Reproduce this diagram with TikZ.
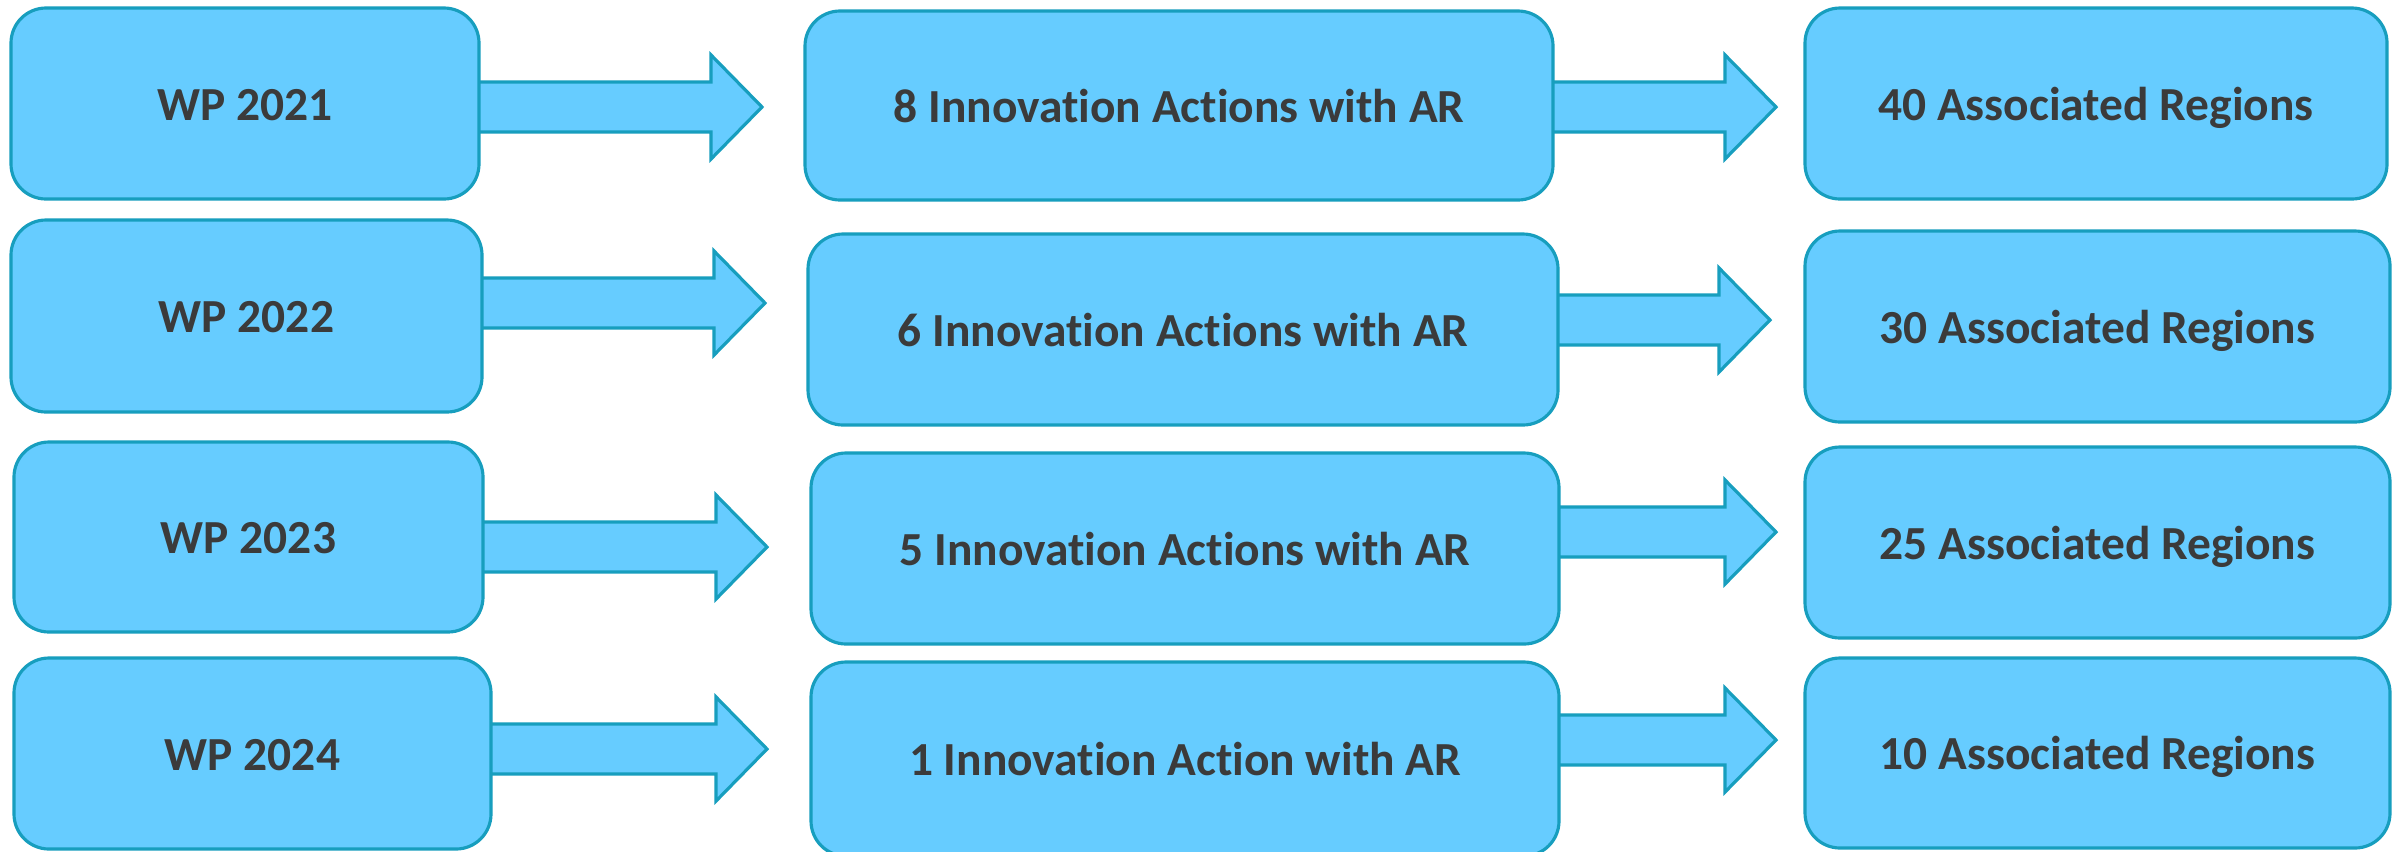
\documentclass[tikz,border=0pt]{standalone}
\usepackage{fontspec}
\setmainfont[Ligatures={NoCommon,NoContextual}]{Carlito}
\usetikzlibrary{calc,backgrounds}
\definecolor{boxfill}{HTML}{66CCFF}
\definecolor{boxline}{HTML}{179EBE}
\definecolor{txt}{HTML}{3B3B3B}
\tikzset{
  card/.style={draw=boxline, fill=boxfill, line width=0.9pt, rounded corners=0.35cm,
    inner sep=0pt, text height=9.6pt, text depth=0pt,
    font=\fontsize{13.5}{16}\selectfont\bfseries, text=txt},
  fatarrow/.style={draw=boxline, fill=boxfill, line width=0.9pt, line join=miter},
}
\newcommand\fatarr[2]{%
  \draw[fatarrow] let \p1=(#2), \p2=(#1.east) in
    (\x2-4pt,\y1+7.1pt) -- (\x1-14.5pt,\y1+7.1pt) -- (\x1-14.5pt,\y1+14.8pt) -- (\x1,\y1)
    -- (\x1-14.5pt,\y1-14.8pt) -- (\x1-14.5pt,\y1-7.1pt) -- (\x2-4pt,\y1-7.1pt) -- cycle;}
\begin{document}
\begin{tikzpicture}
\useasboundingbox (0,0) rectangle (23.99,-8.51);
% left column
\node[card, minimum width=4.68cm, minimum height=1.91cm] (w1) at (2.45,-1.035) {WP 2021};
\node[card, minimum width=4.71cm, minimum height=1.92cm] (w2) at (2.465,-3.16) {WP 2022};
\node[card, minimum width=4.69cm, minimum height=1.90cm] (w3) at (2.485,-5.37) {WP 2023};
\node[card, minimum width=4.77cm, minimum height=1.91cm] (w4) at (2.525,-7.535) {WP 2024};
% middle column
\node[card, minimum width=7.48cm, minimum height=1.89cm] (i1) at (11.79,-1.055) {8 Innovation Actions with AR};
\node[card, minimum width=7.50cm, minimum height=1.91cm] (i2) at (11.83,-3.295) {6 Innovation Actions with AR};
\node[card, minimum width=7.48cm, minimum height=1.91cm] (i3) at (11.85,-5.485) {5 Innovation Actions with AR};
\node[card, minimum width=7.48cm, minimum height=1.94cm] (i4) at (11.85,-7.59) {1 Innovation Action with AR};
% right column
\node[card, minimum width=5.82cm, minimum height=1.91cm] (a1) at (20.96,-1.035) {40 Associated Regions};
\node[card, minimum width=5.85cm, minimum height=1.91cm] (a2) at (20.975,-3.265) {30 Associated Regions};
\node[card, minimum width=5.85cm, minimum height=1.91cm] (a3) at (20.975,-5.425) {25 Associated Regions};
\node[card, minimum width=5.85cm, minimum height=1.90cm] (a4) at (20.975,-7.53) {10 Associated Regions};
% arrow tips
\coordinate (t1) at (7.62,-1.07);
\coordinate (t2) at (7.65,-3.03);
\coordinate (t3) at (7.67,-5.47);
\coordinate (t4) at (7.67,-7.49);
\coordinate (s1) at (17.76,-1.07);
\coordinate (s2) at (17.70,-3.20);
\coordinate (s3) at (17.76,-5.32);
\coordinate (s4) at (17.76,-7.40);
\begin{pgfonlayer}{background}
\fill[white] (0,0) rectangle (23.99,-8.51);
\fatarr{w1}{t1}
\fatarr{w2}{t2}
\fatarr{w3}{t3}
\fatarr{w4}{t4}
\fatarr{i1}{s1}
\fatarr{i2}{s2}
\fatarr{i3}{s3}
\fatarr{i4}{s4}
\end{pgfonlayer}
\end{tikzpicture}
\end{document}
